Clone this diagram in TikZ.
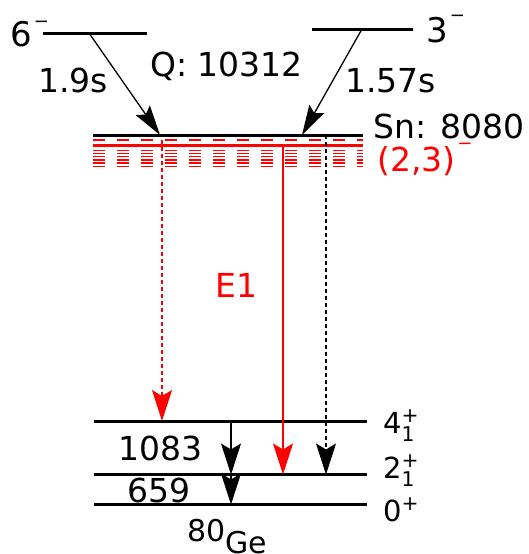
\RequirePackage{fix-cm}
\documentclass[tikz,border=0pt]{standalone}
\usepackage{amsmath}
\usepackage{fontspec}
\setmainfont{DejaVu Sans}
\usetikzlibrary{arrows.meta}

\newcommand{\supminus}[1]{\hspace{2pt}\raisebox{#1}{\fontsize{18}{18}\selectfont −}}

\begin{document}
\begin{tikzpicture}[x=1pt,y=-1pt,every node/.style={font=\fontsize{33}{40}\selectfont,inner sep=0pt,anchor=base west}]
  \tikzset{
    lvl/.style={line width=3pt},
    decay/.style={line width=1.3pt,-{Stealth[length=30pt,width=17pt,inset=5pt]}},
    gam/.style={line width=1.3pt,-{Stealth[length=31pt,width=20pt,inset=6pt]}},
    resdash/.style={red,line width=1.3pt,dash pattern=on 12pt off 12pt},
    spin/.style={font=\fontsize{29}{34}\selectfont}
  }
  \useasboundingbox (0,0) rectangle (528,554);
  % parent states
  \coordinate (p6L) at (43,33);  \coordinate (p6R) at (147,33);
  \coordinate (p3L) at (312,29); \coordinate (p3R) at (413,29);
  \coordinate (p6d) at (89,33);  \coordinate (p3d) at (362,29);
  \draw[lvl] (p6L) -- (p6R);
  \draw[lvl] (p3L) -- (p3R);
  \node (six) at (10,46) {\fontsize{34}{40}\selectfont 6\supminus{19pt}};
  \node (three) at (426,42) {\fontsize{34}{40}\selectfont 3\supminus{21pt}};
  % neutron separation and resonances
  \coordinate (snL) at (93,135);  \coordinate (snR) at (363,135);
  \coordinate (snA) at (160,135); \coordinate (snB) at (302,135);
  \draw[lvl] (snL) -- (snR);
  \draw[resdash] (93,140) -- (363,140);
  \draw[red,lvl] (93,145.5) -- (363,145.5);
  \foreach \i in {0,...,5}
    \draw[resdash] (93,150.5+3.15*\i) -- (363,150.5+3.15*\i);
  \draw[decay] (p6d) -- (snA);
  \draw[decay] (p3d) -- (snB);
  \node (t6) at (38,92) {1.9s};
  \node (t3) at (345,92) {1.57s};
  \node (qval) at (150,76) {Q: 10312};
  \node (sn) at (373,138) {Sn: 8080};
  \node[red] (jpi) at (377,171) {(2,3)\supminus{22pt}};
  % 80Ge levels
  \coordinate (g4L) at (94,421);   \coordinate (g4R) at (367,421);
  \coordinate (g2L) at (94,474.5); \coordinate (g2R) at (367,474.5);
  \coordinate (g0L) at (94,504.5); \coordinate (g0R) at (367,504.5);
  \draw[lvl] (g4L) -- (g4R);
  \draw[lvl] (g2L) -- (g2R);
  \draw[lvl] (g0L) -- (g0R);
  \node[spin] (s4) at (383,433) {4$^{\text{+}}_{\text{1}}$};
  \node[spin] (s2) at (383,478) {2$^{\text{+}}_{\text{1}}$};
  \node[spin] (s0) at (383,521) {0$^{\text{+}}$};
  % gamma transitions
  \coordinate (r1) at (162,140);   \coordinate (e1) at (162,421);
  \coordinate (r2) at (283,146);   \coordinate (e2) at (283,474.5);
  \coordinate (r3) at (326,135);   \coordinate (e3) at (326,474.5);
  \coordinate (c4) at (231,421);   \coordinate (c2) at (231,474.5);
  \coordinate (c0) at (231,504.5);
  \draw[gam,red,dash pattern=on 4pt off 3pt] (r1) -- (e1);
  \draw[gam,red] (r2) -- (e2);
  \draw[gam,dash pattern=on 4pt off 3pt] (r3) -- (e3);
  \draw[gam] (c4) -- (c2);
  \draw[gam] (c2) -- (c0);
  \node[red] (e1lab) at (215,297) {E1};
  \node (en4) at (118,460) {1083};
  \node (en2) at (127,502) {659};
  \node (nuc) at (187,541) {\fontsize{30}{36}\selectfont 80\raisebox{-12pt}{Ge}};
\end{tikzpicture}
\end{document}
